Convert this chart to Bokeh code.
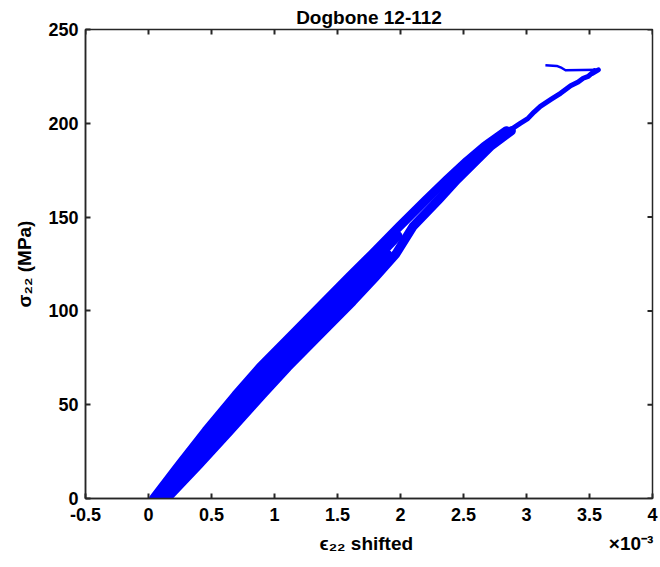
from bokeh.plotting import figure
from bokeh.models import FixedTicker, Range1d, LinearAxis
from bokeh.embed import file_html
from bokeh.resources import INLINE

# stress levels (MPa) at which strand strains (x10^-3) were read
stress_a = [0, 18, 36, 55, 70, 88, 105, 118, 130, 145, 159, 170, 180, 188, 196]
strain_a = [0.04, 0.245, 0.455, 0.69, 0.885, 1.15, 1.40, 1.59, 1.77, 1.99, 2.20, 2.37, 2.53, 2.67, 2.84]

stress_b = [0, 18, 36, 55, 70, 88, 105, 118, 130, 140]
strain_b = [0.075, 0.297, 0.518, 0.76, 0.958, 1.223, 1.473, 1.66, 1.837, 1.98]

stress_c = [0, 18, 36, 55, 70, 88, 105, 118, 130]
strain_c = [0.11, 0.348, 0.582, 0.83, 1.032, 1.297, 1.547, 1.73, 1.90]

stress_d = [0, 18, 36, 55, 70, 88, 105, 118, 130, 145, 159, 170, 180, 188, 196]
strain_d = [0.145, 0.40, 0.645, 0.90, 1.105, 1.37, 1.62, 1.80, 1.96, 2.10, 2.30, 2.45, 2.60, 2.72, 2.88]

# final loading up to the peak, then the drop
stress_top = [196, 200, 202.5, 206, 209, 213, 216, 220, 222, 224, 225, 228, 226.5, 228.5]
strain_top = [2.86, 2.95, 3.01, 3.06, 3.11, 3.20, 3.27, 3.35, 3.41, 3.45, 3.49, 3.54, 3.52, 3.57]

stress_end = [228.5, 228.3, 229.5, 230.6, 231.0]
strain_end = [3.57, 3.31, 3.28, 3.24, 3.15]

x_ticks = [-0.5, 0, 0.5, 1, 1.5, 2, 2.5, 3, 3.5, 4]
x_tick_labels = ["-0.5", "0", "0.5", "1", "1.5", "2", "2.5", "3", "3.5", "4"]
y_ticks = [0, 50, 100, 150, 200, 250]
x_label = "ϵ₂₂  shifted"
x_exponent = "×10⁻³"

FONT = "Liberation Sans"
AX = "#262626"
X0, X1, Y0, Y1 = -0.5, 4.0, 0.0, 250.0
FW, FH = 567, 469  # frame size in px
TICK = 5

p = figure(width=660, height=567, output_backend="svg", toolbar_location=None,
           x_range=Range1d(X0, X1), y_range=Range1d(Y0, Y1),
           min_border_left=85, min_border_right=8, min_border_top=29,
           min_border_bottom=69, title="Dogbone 12-112")
p.background_fill_color = "white"
p.border_fill_color = "white"
p.outline_line_color = AX
p.outline_line_width = 1.5
p.xgrid.visible = False
p.ygrid.visible = False

p.title.text_font = FONT
p.title.text_font_size = "19px"
p.title.text_font_style = "bold"
p.title.align = "center"
p.title.text_color = "black"
p.title.standoff = 3

for ax in (p.xaxis[0], p.yaxis[0]):
    ax.axis_line_color = AX
    ax.axis_line_width = 1.5
    ax.major_tick_line_color = AX
    ax.major_tick_line_width = 2
    ax.major_tick_in = TICK
    ax.major_tick_out = 0
    ax.minor_tick_line_color = None
    ax.major_label_text_font = FONT
    ax.major_label_text_font_size = "18px"
    ax.major_label_text_font_style = "bold"
    ax.major_label_text_color = "black"
    ax.axis_label_text_font = FONT
    ax.axis_label_text_font_size = "19px"
    ax.axis_label_text_font_style = "bold"
    ax.axis_label_text_color = "black"

p.xaxis[0].ticker = FixedTicker(ticks=x_ticks)
p.xaxis[0].major_label_overrides = {t: s for t, s in zip(x_ticks, x_tick_labels)}
p.xaxis[0].major_label_standoff = 9

p.yaxis[0].ticker = FixedTicker(ticks=y_ticks)
p.yaxis[0].major_label_standoff = 7
p.yaxis[0].axis_label = "σ₂₂ (MPa)"
p.yaxis[0].axis_label_standoff = 10

# second row below the x axis: the axis title (centred) and the exponent (right)
label_pos = [(X0 + X1) / 2, 3.83]
lab_axis = LinearAxis(ticker=FixedTicker(ticks=label_pos),
                      major_label_overrides={label_pos[0]: x_label, label_pos[1]: x_exponent},
                      axis_line_color=None, major_tick_line_color=None,
                      minor_tick_line_color=None, major_tick_in=0, major_tick_out=0,
                      major_label_standoff=9, major_label_text_font=FONT,
                      major_label_text_font_size="19px", major_label_text_font_style="bold",
                      major_label_text_color="black")
p.add_layout(lab_axis, "below")

# box tick marks on the top and right edges (pointing inward)
ty = TICK * (Y1 - Y0) / FH
tx = TICK * (X1 - X0) / FW
p.segment(x0=x_ticks, y0=[Y1] * len(x_ticks), x1=x_ticks, y1=[Y1 - ty] * len(x_ticks),
          line_color=AX, line_width=2)
p.segment(x0=[X1] * len(y_ticks), y0=y_ticks, x1=[X1 - tx] * len(y_ticks), y1=y_ticks,
          line_color=AX, line_width=2)

blue = "#0000FF"
for sx, sy in [(strain_a, stress_a), (strain_b, stress_b), (strain_c, stress_c), (strain_d, stress_d)]:
    p.line(sx, sy, line_color=blue, line_width=9, line_join="round", line_cap="round")
p.line(strain_top, stress_top, line_color=blue, line_width=5, line_join="round", line_cap="round")
p.line(strain_end, stress_end, line_color=blue, line_width=2.5, line_join="round")

open("out.html", "w").write(file_html(p, INLINE))
